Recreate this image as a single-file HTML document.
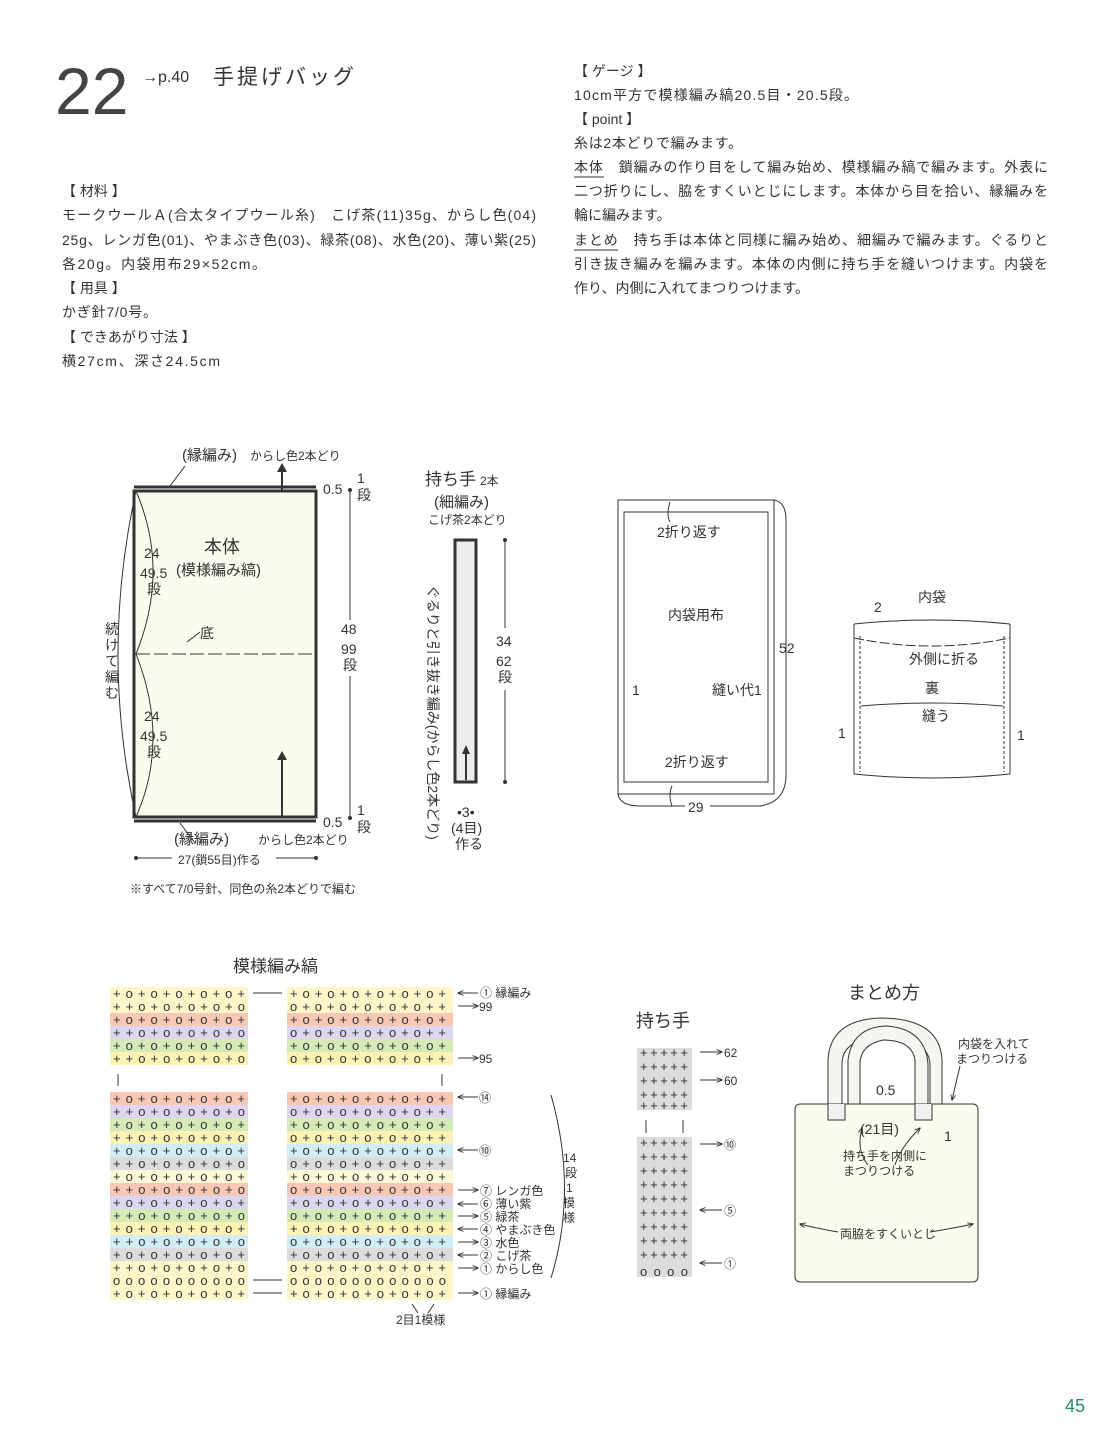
<!DOCTYPE html>
<html><head><meta charset="utf-8"><style>
html,body{margin:0;padding:0;background:#fff}
svg{display:block}
text{font-family:"Liberation Sans","Noto Sans CJK JP",sans-serif;fill:#333}
.t{font-size:14px}
.s{font-size:12px}
.st{font-family:"Liberation Mono",monospace;font-size:13px;fill:#222}
</style></head><body>
<svg width="1120" height="1454" viewBox="0 0 1120 1454" xmlns="http://www.w3.org/2000/svg">
<defs><marker id="a" viewBox="0 0 10 10" refX="9" refY="5" markerWidth="6" markerHeight="6" orient="auto"><path d="M0,1 L10,5 L0,9" fill="none" stroke="#333" stroke-width="1.5"/></marker></defs>
<g>
<text x="55" y="114" style="font-size:66px;fill:#444">22</text>
<text x="142" y="82" style="font-size:16px">→p.40</text>
<text x="213" y="84" style="font-size:21px;letter-spacing:3px">手提げバッグ</text>
<g class="t">
<text x="62" y="196">【 材料 】</text>
<text x="62" y="220" textLength="474">モークウールＡ(合太タイプウール糸)　こげ茶(11)35g、からし色(04)</text>
<text x="62" y="245" textLength="474">25g、レンガ色(01)、やまぶき色(03)、緑茶(08)、水色(20)、薄い紫(25)</text>
<text x="62" y="269" textLength="204">各20g。内袋用布29×52cm。</text>
<text x="62" y="293">【 用具 】</text>
<text x="62" y="317" textLength="95">かぎ針7/0号。</text>
<text x="62" y="342">【 できあがり寸法 】</text>
<text x="62" y="366" textLength="158">横27cm、深さ24.5cm</text>
<text x="574" y="76">【 ゲージ 】</text>
<text x="574" y="100" textLength="284">10cm平方で模様編み縞20.5目・20.5段。</text>
<text x="574" y="124">【 point 】</text>
<text x="574" y="148" textLength="168">糸は2本どりで編みます。</text>
<text x="574" y="172" textLength="474">本体　鎖編みの作り目をして編み始め、模様編み縞で編みます。外表に</text>
<text x="574" y="196" textLength="474">二つ折りにし、脇をすくいとじにします。本体から目を拾い、縁編みを</text>
<text x="574" y="220">輪に編みます。</text>
<text x="574" y="245" textLength="474">まとめ　持ち手は本体と同様に編み始め、細編みで編みます。ぐるりと</text>
<text x="574" y="269" textLength="474">引き抜き編みを編みます。本体の内側に持ち手を縫いつけます。内袋を</text>
<text x="574" y="293">作り、内側に入れてまつりつけます。</text>
</g>
<line x1="574" y1="177" x2="604" y2="177" stroke="#333"/>
<line x1="574" y1="250" x2="618" y2="250" stroke="#333"/>
</g>

<!-- 本体 -->
<g stroke="#333" fill="none">
<rect x="134" y="491" width="182" height="326" fill="#fcfcee" stroke-width="3"/>
<line x1="134" y1="487" x2="316" y2="487" stroke-width="3"/>
<line x1="134" y1="821" x2="316" y2="821" stroke-width="3"/>
<line x1="136" y1="654" x2="314" y2="654" stroke-dasharray="14,4"/>
<path d="M136,491 Q170,570 136,654 Q170,740 136,817"/>
<path d="M136,491 Q100,654 136,817"/>
<line x1="282" y1="491" x2="282" y2="470" stroke-width="2"/>
<line x1="282" y1="817" x2="282" y2="758" stroke-width="2"/>
<line x1="350" y1="490" x2="350" y2="620"/><line x1="350" y1="676" x2="350" y2="818"/>
<line x1="138" y1="858" x2="172" y2="858"/><line x1="276" y1="858" x2="316" y2="858"/>
<path d="M185,466 L170,486"/><path d="M180,823 L195,843"/>
<line x1="187" y1="642" x2="200" y2="632"/>
</g>
<path d="M277,472 L282,463 L287,472Z M277,760 L282,751 L287,760Z" fill="#333"/>
<circle cx="350" cy="490" r="2" fill="#333"/><circle cx="350" cy="818" r="2" fill="#333"/>
<circle cx="136" cy="858" r="2" fill="#333"/><circle cx="316" cy="858" r="2" fill="#333"/>
<text x="182" y="460" style="font-size:15px">(縁編み)</text><text x="250" y="460" class="s">からし色2本どり</text>
<text x="174" y="844" style="font-size:15px">(縁編み)</text><text x="258" y="844" class="s">からし色2本どり</text>
<text x="204" y="553" style="font-size:18px">本体</text>
<text x="176" y="575" style="font-size:15px">(模様編み縞)</text>
<text x="144" y="558" class="t">24</text><text x="140" y="578" class="t">49.5</text><text x="147" y="594" class="t">段</text>
<text x="144" y="721" class="t">24</text><text x="140" y="741" class="t">49.5</text><text x="147" y="757" class="t">段</text>
<text x="200" y="638" class="t">底</text>
<text x="341" y="634" class="t">48</text><text x="341" y="654" class="t">99</text><text x="343" y="670" class="t">段</text>
<text x="323" y="494" class="t">0.5</text><text x="323" y="827" class="t">0.5</text>
<text x="357" y="483" class="t">1</text><text x="357" y="500" class="t">段</text>
<text x="357" y="815" class="t">1</text><text x="357" y="832" class="t">段</text>
<g class="t"><text x="105" y="634">続</text><text x="105" y="650">け</text><text x="105" y="666">て</text><text x="105" y="682">編</text><text x="105" y="698">む</text></g>
<text x="178" y="864" class="s">27(鎖55目)作る</text>
<text x="130" y="893" class="s">※すべて7/0号針、同色の糸2本どりで編む</text>

<!-- 持ち手 top -->
<text x="425" y="485" style="font-size:17px">持ち手</text><text x="480" y="485" class="s">2本</text>
<text x="434" y="507" style="font-size:15px">(細編み)</text>
<text x="428" y="524" class="s">こげ茶2本どり</text>
<rect x="455" y="540" width="21" height="242" fill="#ececec" stroke="#333" stroke-width="3"/>
<line x1="466" y1="780" x2="466" y2="752" stroke="#333" stroke-width="2"/><path d="M462,754 L466,745 L470,754Z" fill="#333"/>
<line x1="505" y1="540" x2="505" y2="628" stroke="#333"/><line x1="505" y1="690" x2="505" y2="782" stroke="#333"/>
<circle cx="505" cy="540" r="2" fill="#333"/><circle cx="505" cy="782" r="2" fill="#333"/>
<text x="496" y="646" class="t">34</text><text x="496" y="666" class="t">62</text><text x="498" y="682" class="t">段</text>
<text x="457" y="817" class="t">•3•</text><text x="451" y="833" class="t">(4目)</text><text x="455" y="849" class="t">作る</text>
<text transform="translate(428,585) rotate(90)" style="font-size:14px">ぐるりと引き抜き編み(からし色2本どり)</text>

<!-- 内袋用布 -->
<g stroke="#333" fill="none">
<rect x="618" y="500" width="156" height="294"/>
<rect x="624" y="512" width="144" height="270"/>
<path d="M774,500 Q786,502 786,520 L786,775 Q786,802 760,806 L710,806"/>
<path d="M618,794 Q620,806 640,806 L685,806"/>
<path d="M670,502 Q666,515 670,522"/>
<path d="M672,786 Q668,795 672,806"/>
</g>
<text x="657" y="537" class="t">2折り返す</text>
<text x="668" y="620" class="t">内袋用布</text>
<text x="779" y="653" class="t">52</text>
<text x="632" y="695" class="t">1</text>
<text x="712" y="695" class="t">縫い代1</text>
<text x="665" y="767" class="t">2折り返す</text>
<text x="688" y="812" class="t">29</text>

<!-- 内袋 -->
<g stroke="#333" fill="none">
<path d="M854,624 L854,774 Q932,782 1010,774 L1010,624"/>
<path d="M854,624 Q932,616 1010,624"/>
<path d="M854,638 Q932,654 1010,638" stroke-dasharray="10,3"/>
<line x1="860" y1="636" x2="860" y2="772" stroke-dasharray="3,2"/>
<line x1="1004" y1="636" x2="1004" y2="772" stroke-dasharray="3,2"/>
<path d="M861,706 Q932,700 1003,706"/>
</g>
<text x="918" y="602" class="t">内袋</text><text x="874" y="612" class="t">2</text>
<text x="909" y="664" class="t">外側に折る</text>
<text x="925" y="693" class="t">裏</text>
<text x="922" y="721" class="t">縫う</text>
<text x="838" y="738" class="t">1</text><text x="1017" y="740" class="t">1</text>

<!-- 模様編み縞 -->
<text x="233" y="972" style="font-size:17px">模様編み縞</text>
<g>
<rect x="110" y="987" width="138" height="13" fill="#fcf6c8"/><rect x="287" y="987" width="166" height="13" fill="#fcf6c8"/>
<rect x="110" y="1000" width="138" height="13" fill="#fcf6c8"/><rect x="287" y="1000" width="166" height="13" fill="#fcf6c8"/>
<rect x="110" y="1013" width="138" height="13" fill="#f8c8b5"/><rect x="287" y="1013" width="166" height="13" fill="#f8c8b5"/>
<rect x="110" y="1026" width="138" height="13" fill="#dcd7ee"/><rect x="287" y="1026" width="166" height="13" fill="#dcd7ee"/>
<rect x="110" y="1039" width="138" height="13" fill="#d6eab8"/><rect x="287" y="1039" width="166" height="13" fill="#d6eab8"/>
<rect x="110" y="1052" width="138" height="13" fill="#fcf2b4"/><rect x="287" y="1052" width="166" height="13" fill="#fcf2b4"/>

<rect x="110" y="1092" width="138" height="13" fill="#f8c8b5"/><rect x="287" y="1092" width="166" height="13" fill="#f8c8b5"/>
<rect x="110" y="1105" width="138" height="13" fill="#dcd7ee"/><rect x="287" y="1105" width="166" height="13" fill="#dcd7ee"/>
<rect x="110" y="1118" width="138" height="13" fill="#d6eab8"/><rect x="287" y="1118" width="166" height="13" fill="#d6eab8"/>
<rect x="110" y="1131" width="138" height="13" fill="#fcf2b4"/><rect x="287" y="1131" width="166" height="13" fill="#fcf2b4"/>
<rect x="110" y="1144" width="138" height="13" fill="#d0eef4"/><rect x="287" y="1144" width="166" height="13" fill="#d0eef4"/>
<rect x="110" y="1157" width="138" height="13" fill="#dcdcdc"/><rect x="287" y="1157" width="166" height="13" fill="#dcdcdc"/>
<rect x="110" y="1170" width="138" height="13" fill="#fcf8d8"/><rect x="287" y="1170" width="166" height="13" fill="#fcf8d8"/>
<rect x="110" y="1183" width="138" height="13" fill="#f8c8b5"/><rect x="287" y="1183" width="166" height="13" fill="#f8c8b5"/>
<rect x="110" y="1196" width="138" height="13" fill="#dcd7ee"/><rect x="287" y="1196" width="166" height="13" fill="#dcd7ee"/>
<rect x="110" y="1209" width="138" height="13" fill="#d6eab8"/><rect x="287" y="1209" width="166" height="13" fill="#d6eab8"/>
<rect x="110" y="1222" width="138" height="13" fill="#fcf2b4"/><rect x="287" y="1222" width="166" height="13" fill="#fcf2b4"/>
<rect x="110" y="1235" width="138" height="13" fill="#d0eef4"/><rect x="287" y="1235" width="166" height="13" fill="#d0eef4"/>
<rect x="110" y="1248" width="138" height="13" fill="#dcdcdc"/><rect x="287" y="1248" width="166" height="13" fill="#dcdcdc"/>
<rect x="110" y="1261" width="138" height="13" fill="#fcf6c8"/><rect x="287" y="1261" width="166" height="13" fill="#fcf6c8"/>
<rect x="110" y="1274" width="138" height="13" fill="#fcf6c8"/><rect x="287" y="1274" width="166" height="13" fill="#fcf6c8"/>
<rect x="110" y="1287" width="138" height="13" fill="#fcf6c8"/><rect x="287" y="1287" width="166" height="13" fill="#fcf6c8"/>
</g>
<g class="st">
<text x="113" y="998" textLength="132">+o+o+o+o+o+</text><text x="290" y="998" textLength="156">+o+o+o+o+o+o+</text>
<text x="113" y="1011" textLength="132">++o+o+o+o+o</text><text x="290" y="1011" textLength="156">o+o+o+o+o+o++</text>
<text x="113" y="1024" textLength="132">+o+o+o+o+o+</text><text x="290" y="1024" textLength="156">+o+o+o+o+o+o+</text>
<text x="113" y="1037" textLength="132">++o+o+o+o+o</text><text x="290" y="1037" textLength="156">o+o+o+o+o+o++</text>
<text x="113" y="1050" textLength="132">+o+o+o+o+o+</text><text x="290" y="1050" textLength="156">+o+o+o+o+o+o+</text>
<text x="113" y="1063" textLength="132">++o+o+o+o+o</text><text x="290" y="1063" textLength="156">o+o+o+o+o+o++</text>
<text x="113" y="1103" textLength="132">+o+o+o+o+o+</text><text x="290" y="1103" textLength="156">+o+o+o+o+o+o+</text>
<text x="113" y="1116" textLength="132">++o+o+o+o+o</text><text x="290" y="1116" textLength="156">o+o+o+o+o+o++</text>
<text x="113" y="1129" textLength="132">+o+o+o+o+o+</text><text x="290" y="1129" textLength="156">+o+o+o+o+o+o+</text>
<text x="113" y="1142" textLength="132">++o+o+o+o+o</text><text x="290" y="1142" textLength="156">o+o+o+o+o+o++</text>
<text x="113" y="1155" textLength="132">+o+o+o+o+o+</text><text x="290" y="1155" textLength="156">+o+o+o+o+o+o+</text>
<text x="113" y="1168" textLength="132">++o+o+o+o+o</text><text x="290" y="1168" textLength="156">o+o+o+o+o+o++</text>
<text x="113" y="1181" textLength="132">+o+o+o+o+o+</text><text x="290" y="1181" textLength="156">+o+o+o+o+o+o+</text>
<text x="113" y="1194" textLength="132">++o+o+o+o+o</text><text x="290" y="1194" textLength="156">o+o+o+o+o+o++</text>
<text x="113" y="1207" textLength="132">+o+o+o+o+o+</text><text x="290" y="1207" textLength="156">+o+o+o+o+o+o+</text>
<text x="113" y="1220" textLength="132">++o+o+o+o+o</text><text x="290" y="1220" textLength="156">o+o+o+o+o+o++</text>
<text x="113" y="1233" textLength="132">+o+o+o+o+o+</text><text x="290" y="1233" textLength="156">+o+o+o+o+o+o+</text>
<text x="113" y="1246" textLength="132">++o+o+o+o+o</text><text x="290" y="1246" textLength="156">o+o+o+o+o+o++</text>
<text x="113" y="1259" textLength="132">+o+o+o+o+o+</text><text x="290" y="1259" textLength="156">+o+o+o+o+o+o+</text>
<text x="113" y="1272" textLength="132">++o+o+o+o+o</text><text x="290" y="1272" textLength="156">o+o+o+o+o+o++</text>
<text x="113" y="1285" textLength="132">ooooooooooo</text><text x="290" y="1285" textLength="156">ooooooooooooo</text>
<text x="113" y="1298" textLength="132">+o+o+o+o+o+</text><text x="290" y="1298" textLength="156">+o+o+o+o+o+o+</text>
</g>
<g stroke="#333" fill="none">
<line x1="253" y1="993" x2="282" y2="993"/><line x1="253" y1="1280" x2="282" y2="1280"/><line x1="253" y1="1293" x2="282" y2="1293"/>
<line x1="118" y1="1074" x2="118" y2="1086"/><line x1="442" y1="1074" x2="442" y2="1086"/>
<path d="M551,1095 Q578,1190 551,1278"/>
<path d="M412,1304 L418,1313 M434,1304 L428,1313"/>
</g>
<g stroke="#333" marker-end="url(#a)">
<line x1="478" y1="993" x2="458" y2="993"/><line x1="458" y1="1006" x2="478" y2="1006"/>
<line x1="458" y1="1058" x2="478" y2="1058"/><line x1="478" y1="1097" x2="458" y2="1097"/>
<line x1="478" y1="1150" x2="458" y2="1150"/><line x1="458" y1="1190" x2="478" y2="1190"/>
<line x1="478" y1="1204" x2="458" y2="1204"/><line x1="458" y1="1216" x2="478" y2="1216"/>
<line x1="478" y1="1229" x2="458" y2="1229"/><line x1="458" y1="1242" x2="478" y2="1242"/>
<line x1="478" y1="1255" x2="458" y2="1255"/><line x1="458" y1="1268" x2="478" y2="1268"/>
<line x1="458" y1="1293" x2="478" y2="1293"/>
</g>
<g class="s">
<text x="480" y="997">① 縁編み</text><text x="479" y="1011">99</text><text x="479" y="1063">95</text>
<text x="479" y="1102">⑭</text><text x="479" y="1155">⑩</text>
<text x="480" y="1195">⑦ レンガ色</text><text x="480" y="1208">⑥ 薄い紫</text><text x="480" y="1221">⑤ 緑茶</text>
<text x="480" y="1234">④ やまぶき色</text><text x="480" y="1247">③ 水色</text><text x="480" y="1260">② こげ茶</text>
<text x="480" y="1273">① からし色</text><text x="480" y="1298">① 縁編み</text>
<text x="396" y="1324">2目1模様</text>
<text x="563" y="1162">14</text><text x="565" y="1177">段</text><text x="566" y="1192">1</text><text x="563" y="1207">模</text><text x="563" y="1222">様</text>
</g>

<!-- 持ち手 chart -->
<text x="636" y="1027" style="font-size:18px">持ち手</text>
<rect x="637" y="1048" width="55" height="62" fill="#dcdcdc"/>
<rect x="637" y="1137" width="55" height="140" fill="#dcdcdc"/>
<g class="st">
<text x="640" y="1057" textLength="48">+++++</text><text x="640" y="1071" textLength="48">+++++</text><text x="640" y="1085" textLength="48">+++++</text><text x="640" y="1099" textLength="48">+++++</text><text x="640" y="1110" textLength="48">+++++</text>
<text x="640" y="1147" textLength="48">+++++</text><text x="640" y="1161" textLength="48">+++++</text><text x="640" y="1175" textLength="48">+++++</text><text x="640" y="1189" textLength="48">+++++</text><text x="640" y="1203" textLength="48">+++++</text><text x="640" y="1217" textLength="48">+++++</text><text x="640" y="1231" textLength="48">+++++</text><text x="640" y="1245" textLength="48">+++++</text><text x="640" y="1259" textLength="48">+++++</text><text x="640" y="1276" textLength="48">oooo</text>
</g>
<g stroke="#333"><line x1="646" y1="1120" x2="646" y2="1133"/><line x1="683" y1="1120" x2="683" y2="1133"/></g>
<g stroke="#333" marker-end="url(#a)">
<line x1="700" y1="1052" x2="722" y2="1052"/><line x1="700" y1="1080" x2="722" y2="1080"/><line x1="700" y1="1144" x2="722" y2="1144"/>
<line x1="722" y1="1210" x2="700" y2="1210"/><line x1="722" y1="1263" x2="700" y2="1263"/>
</g>
<g class="s"><text x="724" y="1057">62</text><text x="724" y="1085">60</text><text x="724" y="1149">⑩</text><text x="724" y="1215">⑤</text><text x="724" y="1268">①</text></g>

<!-- まとめ方 -->
<text x="848" y="999" style="font-size:18px">まとめ方</text>
<g stroke="#333" fill="#f6f6f0">
<path d="M828,1106 L828,1060 Q830,1020 880,1018 Q940,1018 942,1060 L942,1106 L930,1106 L930,1064 Q928,1038 885,1036 Q842,1038 842,1064 L842,1106Z"/>
<path d="M915,1106 L915,1060 Q912,1040 883,1040 Q860,1045 860,1064 L860,1106 L848,1106 L848,1060 Q852,1028 885,1026 Q925,1028 928,1064 L928,1106Z"/>
<rect x="795" y="1104" width="183" height="178" rx="5" fill="#fcfcee"/>
<path d="M828,1104 L828,1120 L845,1120 L845,1104 M915,1104 L915,1120 L932,1120 L932,1104" fill="#f0f0f0"/>
</g>
<g stroke="#333" fill="none" marker-end="url(#a)">
<path d="M868,1165 Q856,1150 862,1128"/><path d="M895,1165 Q900,1148 920,1128"/>
<path d="M960,1066 L952,1100"/>
<path d="M838,1232 Q815,1228 800,1224"/><path d="M930,1232 Q955,1228 973,1224"/>
</g>
<text x="876" y="1095" class="t">0.5</text>
<text x="860" y="1134" class="t">(21目)</text>
<text x="944" y="1141" class="t">1</text>
<text x="843" y="1160" class="s">持ち手を内側に</text><text x="843" y="1175" class="s">まつりつける</text>
<text x="840" y="1238" class="s">両脇をすくいとじ</text>
<text x="958" y="1048" class="s">内袋を入れて</text><text x="956" y="1063" class="s">まつりつける</text>

<text x="1065" y="1412" style="font-size:18px;fill:#2a8a6a">45</text>
</svg>
</body></html>
